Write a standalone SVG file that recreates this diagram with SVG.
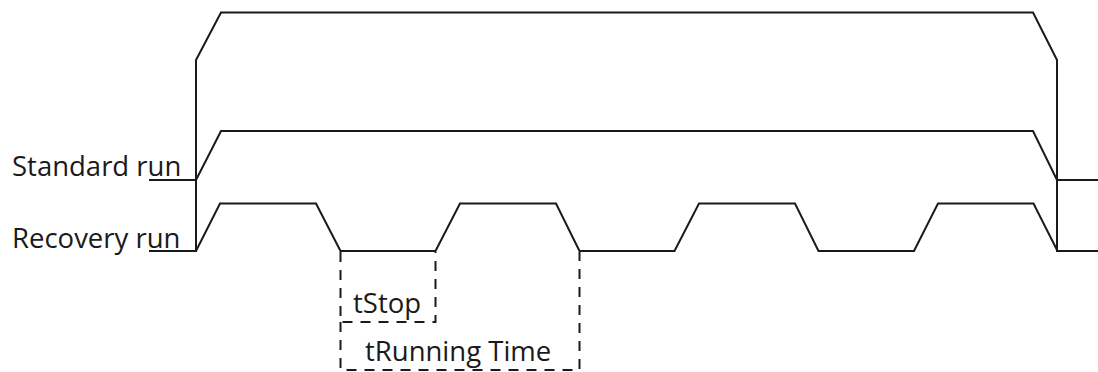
<svg xmlns="http://www.w3.org/2000/svg" width="1098" height="372" viewBox="0 0 1098 372">
<style>
.sig{fill:none;stroke:#1a1a1a;stroke-width:2;stroke-linejoin:miter}
.dash{fill:none;stroke:#1a1a1a;stroke-width:2;stroke-dasharray:10 8}
.lbl{font-family:"Open Sans","Noto Sans","Liberation Sans",sans-serif;font-size:27.5px;fill:#1a1a1a}
</style>
<rect width="1098" height="372" fill="#ffffff"/>
<g id="connectors">
<path id="envelope" class="sig" d="M196,252 V60 L221,12.5 H1033 L1057,60 V252"/>
<path id="standard-run-signal" class="sig" d="M149,180 H196 L221,131 H1033 L1057,180 H1098"/>
<path id="recovery-run-signal" class="sig" d="M149,251 H196 L220,203.5 H316 L340.5,251 H435.5 L460,203.5 H556 L579.5,251 H674.5 L699,203.5 H795 L818.5,251 H914 L938,203.5 H1033.5 L1057.5,251 H1098"/>
</g>
<g id="tStop">
<path class="dash" d="M340.5,252 V322 H435.5 V252"/>
<text class="lbl" x="353" y="313">tStop</text>
</g>
<g id="tRunningTime">
<path class="dash" d="M340.5,322 V370 H579.5 V252"/>
<text class="lbl" x="365" y="361">tRunning Time</text>
</g>
<g id="label-standard">
<text class="lbl" x="12" y="176">Standard run</text>
</g>
<g id="label-recovery">
<text class="lbl" x="12" y="248">Recovery run</text>
</g>
</svg>
